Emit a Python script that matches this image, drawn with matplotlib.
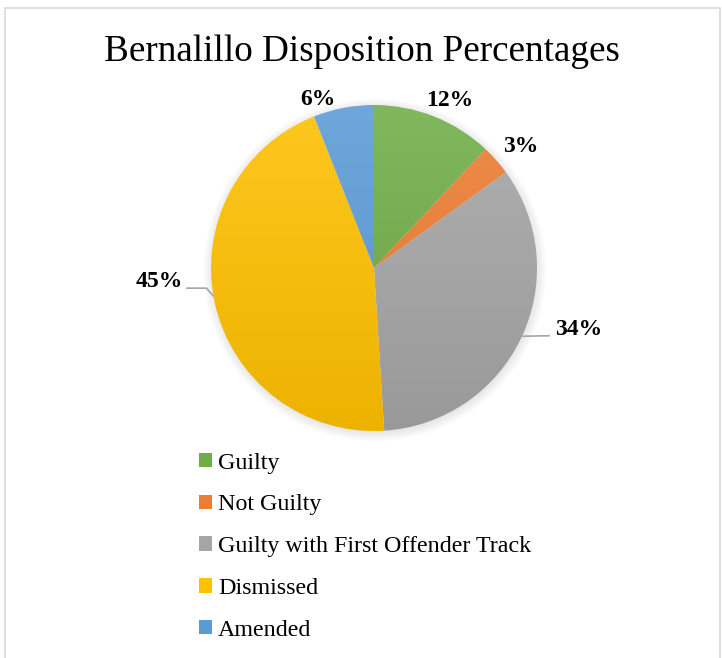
import numpy as np
import matplotlib.pyplot as plt
from matplotlib.colors import to_rgb
from matplotlib.patches import Rectangle
from matplotlib.lines import Line2D

plt.rcParams['font.family'] = ['Liberation Serif', 'DejaVu Serif']

# ----------------- Data -----------------
categories = ['Guilty', 'Not Guilty', 'Guilty with First Offender Track', 'Dismissed', 'Amended']
shares = [12, 3, 34, 45, 6]
pct_labels = ['12%', '3%', '34%', '45%', '6%']
colors = ['#70AD47', '#ED7D31', '#A5A5A5', '#FFC000', '#5B9BD5']

# label placement (angle in deg, distance in radii) and leader lines
label_angle = [65.7, 39.5, -16.8, 183.5, 108.4]
label_dist = [1.13, 1.17, 1.31, 1.32, 1.09]
leader = [False, False, True, True, False]

W, H = 722, 658
fig = plt.figure(figsize=(W / 100, H / 100), dpi=100)

# frame
fig.patches.append(Rectangle((5 / W, -0.01), 715 / W, (H - 8) / H + 0.01,
                             transform=fig.transFigure, fill=False,
                             edgecolor='#D9D9D9', linewidth=1.2))

cx, cy, r = 374, 268, 163
span = 1.4
side = 2 * r * span
ax = fig.add_axes([(cx - side / 2) / W, (H - cy - side / 2) / H, side / W, side / H])
ax.axis('off')

# soft shadow
for k in range(6):
    ax.add_patch(plt.Circle((0.005, -0.012), 1.0 + 0.01 * k, color='black',
                            alpha=0.016, zorder=0, linewidth=0))

wedges, _ = ax.pie(shares, colors=colors, startangle=90, counterclock=False,
                   radius=1.0, wedgeprops=dict(linewidth=0))

# vertical gradient in each wedge
yy = np.linspace(1, -1, 256)[:, None]
for w, c in zip(wedges, colors):
    base = np.array(to_rgb(c))
    top = base + (1 - base) * 0.12
    bot = base * 0.93
    t = (1 - yy) / 2
    grad = top[None, None, :] * (1 - t[..., None]) + bot[None, None, :] * t[..., None]
    grad = np.repeat(grad, 2, axis=1)
    w.set_facecolor('none')
    im = ax.imshow(grad, extent=(-1, 1, -1, 1), origin='upper', zorder=2,
                   interpolation='bilinear', aspect='auto')
    im.set_clip_path(w)

for lab, a, d, ld in zip(pct_labels, label_angle, label_dist, leader):
    th = np.deg2rad(a)
    x, y = d * np.cos(th), d * np.sin(th)
    if ld:
        if x > 0:
            ax.add_line(Line2D([x - 0.18, x - 0.34], [y - 0.037, y - 0.04],
                               color='#A6A6A6', linewidth=1.2, zorder=3))
        else:
            ax.add_line(Line2D([x + 0.17, x + 0.29, x + 0.33], [y - 0.043, y - 0.043, y - 0.09],
                               color='#A6A6A6', linewidth=1.2, zorder=3))
    ax.text(x, y, lab, ha='center', va='center', fontsize=17, fontweight='bold', zorder=4)

ax.set_xlim(-span, span)
ax.set_ylim(-span, span)
ax.set_aspect('equal')

fig.text(362 / W, 1 - 52 / H, 'Bernalillo Disposition Percentages',
         ha='center', va='center', fontsize=26.7)

handles = [Rectangle((0, 0), 1, 1, facecolor=c, edgecolor='none') for c in colors]
fig.legend(handles, categories, loc='upper left', bbox_to_anchor=(189 / W, 1 - 443 / H),
           frameon=False, fontsize=17.3, handlelength=0.55, handleheight=0.55,
           handletextpad=0.25, labelspacing=0.865, borderaxespad=0)

fig.savefig('out.png', dpi=100)
